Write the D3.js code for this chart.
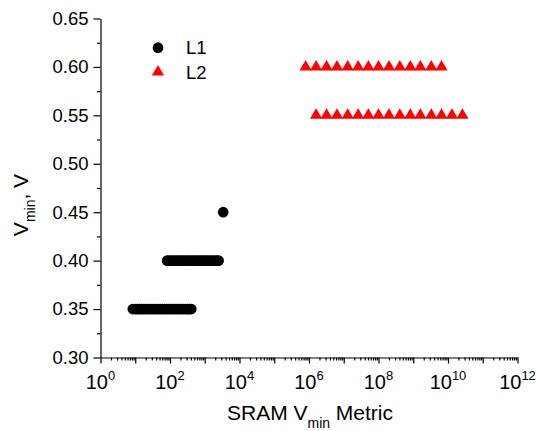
<!DOCTYPE html>
<html><head><meta charset="utf-8">
<script src="https://cdn.jsdelivr.net/npm/d3@7"></script>
<style>
body{margin:0;background:#fff}
svg{display:block}
text{font-family:"Liberation Sans",Arial,Helvetica,sans-serif;fill:#000}
</style>
</head><body>
<svg id="c" width="536" height="431"></svg>
<script>
// ---- data ----
const seriesNames = ["L1", "L2"];
const l1Levels = [0.35, 0.40, 0.45];
const l1X035 = [8.5, 10, 11.5, 13, 15, 17, 20, 23, 26, 30, 35, 40, 46, 53, 61, 70, 80, 92, 105, 120, 140, 160, 185, 210, 240, 280, 320, 360, 410];
const l1X040 = [83, 95, 110, 125, 145, 165, 190, 220, 250, 290, 330, 380, 440, 500, 580, 660, 760, 870, 1000, 1150, 1300, 1500, 1700, 2000, 2250, 2500];
const l1X045 = [3400];
const l2Levels = [0.60, 0.55];
const l2X060 = [8e5, 1.6e6, 3.2e6, 6.4e6, 1.3e7, 2.6e7, 5.1e7, 1e8, 2e8, 4.1e8, 8.2e8, 1.6e9, 3.3e9, 6.5e9];
const l2X055 = [1.6e6, 3.2e6, 6.4e6, 1.3e7, 2.6e7, 5.1e7, 1e8, 2e8, 4.1e8, 8.2e8, 1.6e9, 3.3e9, 6.5e9, 1.3e10, 2.6e10];
const yTickValues = [0.30, 0.35, 0.40, 0.45, 0.50, 0.55, 0.60, 0.65];
const yMinorValues = [0.325, 0.375, 0.425, 0.475, 0.525, 0.575, 0.625];
const xLabelExponents = [0, 2, 4, 6, 8, 10, 12];

// ---- build ----
const svg = d3.select("#c");
const x = d3.scaleLog().domain([1, 1e12]).range([100.5, 517.5]);
const y = d3.scaleLinear().domain([0.30, 0.65]).range([357.5, 18.5]);

const l1Data = [].concat(
  l1X035.map(v => ({x: v, y: l1Levels[0]})),
  l1X040.map(v => ({x: v, y: l1Levels[1]})),
  l1X045.map(v => ({x: v, y: l1Levels[2]}))
);
const l2Data = [].concat(
  l2X060.map(v => ({x: v, y: l2Levels[0]})),
  l2X055.map(v => ({x: v, y: l2Levels[1]}))
);

// x minor ticks
const decades = d3.range(0, 12);
const xMajor = d3.range(0, 13).map(e => Math.pow(10, e));
const xMinor = [];
decades.forEach(e => { for (let k = 2; k <= 9; k++) xMinor.push(k * Math.pow(10, e)); });

const gx = svg.append("g").attr("transform", `translate(0,${y(0.30)})`);
gx.call(d3.axisBottom(x).tickValues(xMajor).tickSize(6).tickSizeOuter(0).tickFormat(""));
gx.append("g").call(d3.axisBottom(x).tickValues(xMinor).tickSize(3).tickSizeOuter(0).tickFormat(""))
  .select(".domain").remove();
gx.selectAll("line, path").attr("stroke", "#000").attr("stroke-width", 1.2);

const xl = gx.selectAll("text.xl").data(xLabelExponents).enter().append("text")
  .attr("class", "xl")
  .attr("x", d => x(Math.pow(10, d)))
  .attr("y", 31)
  .attr("text-anchor", "middle")
  .style("font-size", "20px");
xl.append("tspan").text("10");
xl.append("tspan").attr("dy", -9).style("font-size", "13px").text(d => d);

// y axis
const gy = svg.append("g").attr("transform", `translate(${x(1)},0)`);
gy.call(d3.axisLeft(y).tickValues(yTickValues).tickSize(7).tickSizeOuter(0).tickPadding(5).tickFormat(d3.format(".2f")));
gy.append("g").call(d3.axisLeft(y).tickValues(yMinorValues).tickSize(3.5).tickSizeOuter(0).tickFormat(""))
  .select(".domain").remove();
gy.selectAll("line, path").attr("stroke", "#000").attr("stroke-width", 1.2);
gy.selectAll("text").style("font-size", "18.5px").style("font-family", '"Liberation Sans",Arial,sans-serif').attr("fill", "#000");

// marks
const circle = d3.symbol().type(d3.symbolCircle).size(90);
const tri = d3.symbol().type(d3.symbolTriangle).size(64);
svg.append("g").selectAll("path").data(l1Data).enter().append("path")
  .attr("d", circle).attr("transform", d => `translate(${x(d.x)},${y(d.y)})`).attr("fill", "#000");
svg.append("g").selectAll("path").data(l2Data).enter().append("path")
  .attr("d", tri).attr("transform", d => `translate(${x(d.x)},${y(d.y)})`).attr("fill", "#ff0000");

// legend
const lg = svg.append("g");
lg.append("path").attr("d", circle).attr("transform", "translate(158,47.7)").attr("fill", "#000");
lg.append("path").attr("d", tri).attr("transform", "translate(158,72)").attr("fill", "#ff0000");
lg.selectAll("text").data(seriesNames).enter().append("text")
  .attr("x", 186).attr("y", (d, i) => 54 + i * 25)
  .style("font-size", "18.5px").text(d => d);

// axis titles
const xt = svg.append("text").attr("x", 310).attr("y", 420).attr("text-anchor", "middle").style("font-size", "21px");
xt.append("tspan").text("SRAM V");
xt.append("tspan").attr("dy", 8).style("font-size", "14px").text("min");
xt.append("tspan").attr("dy", -8).text(" Metric");

const yt = svg.append("text").attr("transform", "translate(27.5,205) rotate(-90)").attr("text-anchor", "middle").style("font-size", "21px");
yt.append("tspan").text("V");
yt.append("tspan").attr("dy", 7).style("font-size", "14px").text("min");
yt.append("tspan").attr("dy", -7).text(", V");
</script>
</body></html>
